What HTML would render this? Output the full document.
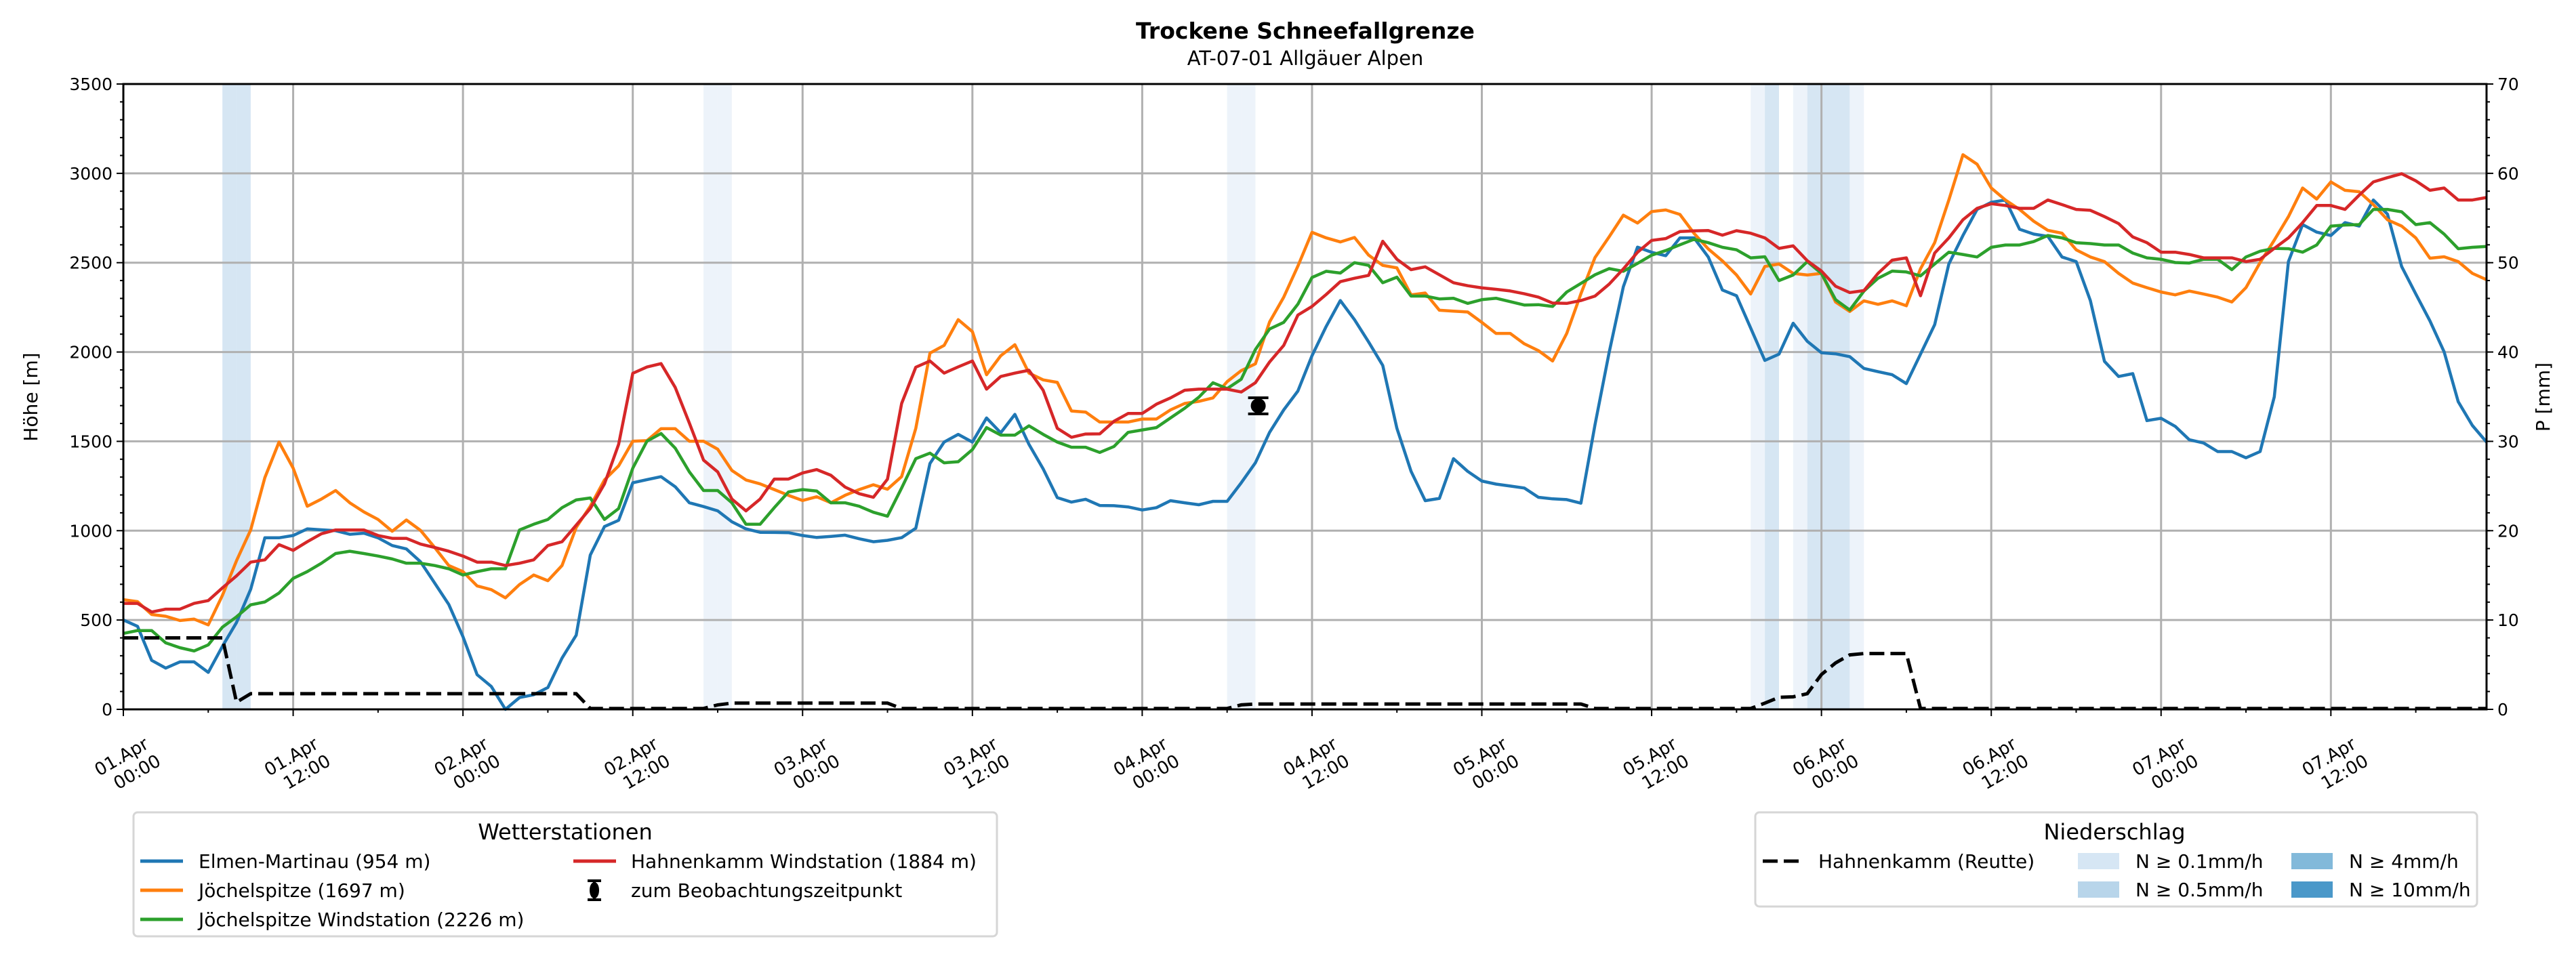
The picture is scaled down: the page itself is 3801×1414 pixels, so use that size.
<!DOCTYPE html>
<html><head><meta charset="utf-8">
<style>
html,body{margin:0;padding:0;background:#fff;}
svg{display:block;font-family:"DejaVu Sans","Liberation Sans",sans-serif;}
</style></head>
<body>
<svg id="chart" width="3801" height="1414" viewBox="0 0 3801 1414" xmlns="http://www.w3.org/2000/svg">
<rect x="0" y="0" width="3801" height="1414" fill="#fff"/>
<text x="1926" y="57" font-size="33" font-weight="bold" text-anchor="middle">Trockene Schneefallgrenze</text>
<text x="1926" y="96" font-size="29" text-anchor="middle">AT-07-01 Allgäuer Alpen</text>
<g id="bands"></g>
<g id="grid"></g>
<g id="series"></g>
<g id="axes"></g>
<text transform="translate(55,586) rotate(-90)" font-size="28" text-anchor="middle">Höhe [m]</text>
<text transform="translate(3762,586) rotate(-90)" font-size="28" text-anchor="middle">P [mm]</text>

<g>
<rect x="197" y="1199" width="1274" height="183" rx="6" fill="#fff" stroke="#d6d6d6" stroke-width="3"/>
<text x="834" y="1239" font-size="32" text-anchor="middle">Wetterstationen</text>
<line x1="207" y1="1271" x2="270" y2="1271" stroke="#1f77b4" stroke-width="5"/>
<text x="293" y="1281" font-size="28">Elmen-Martinau (954 m)</text>
<line x1="207" y1="1314" x2="270" y2="1314" stroke="#ff7f0e" stroke-width="5"/>
<text x="293" y="1324" font-size="28">Jöchelspitze (1697 m)</text>
<line x1="207" y1="1357" x2="270" y2="1357" stroke="#2ca02c" stroke-width="5"/>
<text x="293" y="1367" font-size="28">Jöchelspitze Windstation (2226 m)</text>
<line x1="846" y1="1271" x2="909" y2="1271" stroke="#d62728" stroke-width="5"/>
<text x="931" y="1281" font-size="28">Hahnenkamm Windstation (1884 m)</text>
<g stroke="#000" stroke-width="4">
<line x1="877" y1="1300" x2="877" y2="1328"/><line x1="867" y1="1300" x2="887" y2="1300"/><line x1="867" y1="1328" x2="887" y2="1328"/>
<ellipse cx="877" cy="1314" rx="5" ry="10" fill="#000"/></g>
<text x="931" y="1324" font-size="28">zum Beobachtungszeitpunkt</text>
</g>

<g>
<rect x="2590" y="1199" width="1065" height="139" rx="6" fill="#fff" stroke="#d6d6d6" stroke-width="3"/>
<text x="3120" y="1239" font-size="32" text-anchor="middle">Niederschlag</text>
<line x1="2601" y1="1271" x2="2659" y2="1271" stroke="#000" stroke-width="5" stroke-dasharray="22,9"/>
<text x="2683" y="1281" font-size="28">Hahnenkamm (Reutte)</text>
<rect x="3066" y="1259" width="61" height="24" fill="#d6e6f4"/>
<text x="3151" y="1281" font-size="28">N ≥ 0.1mm/h</text>
<rect x="3066" y="1301" width="61" height="24" fill="#b8d5ea"/>
<text x="3151" y="1323" font-size="28">N ≥ 0.5mm/h</text>
<rect x="3381" y="1259" width="61" height="24" fill="#82b9da"/>
<text x="3466" y="1281" font-size="28">N ≥ 4mm/h</text>
<rect x="3381" y="1301" width="61" height="24" fill="#4a98c9"/>
<text x="3466" y="1323" font-size="28">N ≥ 10mm/h</text>
</g>
</svg>
<script>
const elmen=[500,465,274,231,266,266,207,353,486,672,960,960,973,1010,1005,1000,980,986,960,917,898,826,707,587,407,194,128,0,66,82,122,287,415,864,1023,1058,1268,1286,1302,1246,1156,1135,1111,1050,1010,991,990,989,973,962,968,975,955,938,946,961,1014,1376,1496,1539,1496,1631,1548,1651,1483,1346,1185,1160,1176,1141,1140,1133,1116,1129,1168,1156,1145,1164,1164,1268,1380,1550,1676,1782,1979,2143,2288,2181,2056,1925,1573,1332,1168,1181,1403,1332,1278,1261,1250,1239,1187,1178,1174,1154,1593,1998,2365,2587,2558,2539,2639,2639,2532,2347,2315,2134,1953,1988,2161,2060,1996,1990,1974,1908,1890,1873,1823,1988,2153,2493,2652,2798,2838,2851,2687,2660,2647,2532,2506,2288,1948,1863,1879,1616,1629,1584,1509,1491,1443,1443,1408,1443,1749,2506,2713,2671,2652,2724,2705,2851,2772,2479,2325,2174,2001,1722,1589,1496];
const joechel=[614,603,531,521,497,505,473,638,832,1004,1297,1496,1350,1137,1177,1225,1156,1105,1063,997,1060,1002,906,805,771,691,670,624,699,752,720,805,1018,1137,1284,1363,1501,1504,1571,1571,1501,1501,1456,1337,1284,1262,1230,1198,1169,1190,1156,1198,1230,1257,1232,1303,1573,1994,2037,2181,2114,1873,1979,2041,1882,1844,1830,1670,1664,1608,1608,1608,1625,1625,1676,1712,1724,1743,1834,1896,1934,2168,2307,2481,2670,2639,2616,2641,2542,2485,2471,2320,2330,2234,2229,2224,2166,2104,2104,2046,2008,1950,2104,2326,2529,2645,2766,2722,2786,2795,2770,2664,2577,2510,2431,2325,2479,2493,2440,2431,2440,2280,2227,2286,2267,2286,2259,2466,2612,2851,3104,3051,2918,2851,2798,2732,2681,2665,2572,2532,2506,2440,2386,2360,2336,2320,2341,2325,2307,2280,2360,2501,2626,2758,2918,2856,2952,2905,2897,2825,2740,2705,2639,2525,2533,2506,2440,2405];
const joechelWind=[425,441,441,372,345,327,361,460,518,585,601,651,733,771,818,872,885,872,858,842,818,818,805,787,752,771,787,787,1004,1036,1063,1129,1172,1183,1063,1124,1350,1501,1544,1462,1329,1225,1225,1156,1036,1036,1129,1217,1230,1222,1156,1156,1137,1103,1081,1239,1403,1434,1380,1386,1454,1577,1535,1535,1587,1539,1496,1467,1467,1438,1471,1550,1564,1577,1631,1685,1747,1828,1795,1848,2014,2129,2166,2268,2417,2452,2442,2500,2485,2388,2419,2313,2313,2297,2301,2272,2293,2301,2282,2263,2265,2255,2336,2384,2432,2467,2452,2496,2542,2568,2600,2631,2612,2586,2572,2527,2533,2400,2431,2506,2440,2293,2235,2341,2413,2453,2448,2426,2493,2559,2546,2532,2586,2599,2599,2618,2652,2639,2612,2607,2599,2599,2554,2527,2519,2501,2498,2519,2519,2461,2532,2564,2580,2578,2559,2599,2705,2711,2713,2798,2798,2785,2713,2724,2660,2578,2586,2591];
const hahnenkamm=[593,593,545,561,561,593,609,680,747,824,837,922,890,938,983,1004,1004,1004,973,957,957,925,906,885,858,824,824,805,818,837,917,938,1031,1124,1262,1483,1881,1916,1935,1802,1602,1395,1329,1177,1111,1177,1289,1289,1323,1342,1310,1244,1207,1187,1288,1712,1915,1950,1882,1917,1950,1792,1863,1882,1898,1786,1573,1523,1541,1542,1612,1656,1656,1708,1743,1786,1792,1792,1792,1776,1828,1944,2037,2207,2255,2322,2394,2413,2429,2620,2519,2461,2477,2432,2388,2371,2359,2351,2342,2326,2307,2274,2272,2288,2313,2380,2465,2558,2625,2635,2674,2678,2680,2654,2679,2665,2639,2580,2594,2511,2453,2368,2333,2344,2440,2514,2527,2315,2554,2639,2740,2804,2830,2820,2804,2804,2851,2825,2798,2793,2758,2719,2644,2612,2559,2559,2546,2527,2527,2527,2506,2519,2580,2639,2724,2820,2820,2798,2878,2952,2976,2998,2958,2905,2918,2851,2851,2865];
const precip=[8,8,8,8,8,8,8,8,0.8,1.75,1.75,1.75,1.75,1.75,1.75,1.75,1.75,1.75,1.75,1.75,1.75,1.75,1.75,1.75,1.75,1.75,1.75,1.75,1.75,1.75,1.75,1.75,1.75,0.1,0.1,0.1,0.1,0.1,0.1,0.1,0.1,0.1,0.5,0.7,0.7,0.7,0.7,0.7,0.7,0.7,0.7,0.7,0.7,0.7,0.7,0.1,0.1,0.1,0.1,0.1,0.1,0.1,0.1,0.1,0.1,0.1,0.1,0.1,0.1,0.1,0.1,0.1,0.1,0.1,0.1,0.1,0.1,0.1,0.1,0.5,0.6,0.6,0.6,0.6,0.6,0.6,0.6,0.6,0.6,0.6,0.6,0.6,0.6,0.6,0.6,0.6,0.6,0.6,0.6,0.6,0.6,0.6,0.6,0.6,0.1,0.1,0.1,0.1,0.1,0.1,0.1,0.1,0.1,0.1,0.1,0.1,0.7,1.35,1.4,1.75,3.9,5.2,6.1,6.25,6.25,6.25,6.25,0.1,0.1,0.1,0.1,0.1,0.1,0.1,0.1,0.1,0.1,0.1,0.1,0.1,0.1,0.1,0.1,0.1,0.1,0.1,0.1,0.1,0.1,0.1,0.1,0.1,0.1,0.1,0.1,0.1,0.1,0.1,0.1,0.1,0.1,0.1,0.1,0.1,0.1,0.1,0.1,0.1];
const bandHours=[7,8,41,42,78,79,115,116,118,119,120,121,122];
const bandLevels=[2,2,1,1,1,1,1,2,1,2,2,2,1];
const obsHour=[80.2];
const obsValue=[1699];
const obsErr=[45];
const yTicks=[0,500,1000,1500,2000,2500,3000,3500];
const pTicks=[0,10,20,30,40,50,60,70];
const xTickHours=[0,12,24,36,48,60,72,84,96,108,120,132,144,156];
const xTickDates=["01.Apr","01.Apr","02.Apr","02.Apr","03.Apr","03.Apr","04.Apr","04.Apr","05.Apr","05.Apr","06.Apr","06.Apr","07.Apr","07.Apr"];
const xTickTimes=["00:00","12:00","00:00","12:00","00:00","12:00","00:00","12:00","00:00","12:00","00:00","12:00","00:00","12:00"];

const NS="http://www.w3.org/2000/svg";
const L=182,R=3669,T=124,B=1047,HMAX=167;
const xS=h=>L+h*(R-L)/HMAX;
const yS=v=>B-v*(B-T)/3500;
const pS=p=>B-p*(B-T)/70;
function mk(tag,attrs,parent){const e=document.createElementNS(NS,tag);for(const k in attrs)e.setAttribute(k,attrs[k]);parent.appendChild(e);return e;}
const gB=document.getElementById('bands'),gG=document.getElementById('grid'),gS=document.getElementById('series'),gA=document.getElementById('axes');

bandHours.forEach((h,i)=>{
  const r=mk('rect',{x:xS(h),y:T,width:xS(h+1)-xS(h),height:B-T,fill:bandLevels[i]===2?'#d6e6f3':'#edf3fa'},gB);
  
  
});
yTicks.forEach(v=>{
  const l=mk('line',{x1:L,x2:R,y1:yS(v),y2:yS(v),stroke:'#b0b0b0','stroke-width':3},gG);
  
  
});
xTickHours.forEach(h=>{
  const l=mk('line',{x1:xS(h),x2:xS(h),y1:T,y2:B,stroke:'#b0b0b0','stroke-width':3},gG);
  
  
});
function line(vals,color,name){
  const d=vals.map((v,i)=>(i?'L':'M')+xS(i).toFixed(1)+' '+yS(v).toFixed(1)).join(' ');
  const p=mk('path',{d:d,fill:'none',stroke:color,'stroke-width':4.5,'stroke-linejoin':'round'},gS);
  
  
}
line(elmen,'#1f77b4','elmen-line');
line(joechel,'#ff7f0e','joechel-line');
line(joechelWind,'#2ca02c','joechel-wind-line');
line(hahnenkamm,'#d62728','hahnenkamm-line');
{
  const d=precip.map((v,i)=>(i?'L':'M')+xS(i).toFixed(1)+' '+pS(v).toFixed(1)).join(' ');
  const p=mk('path',{d:d,fill:'none',stroke:'#000','stroke-width':5,'stroke-dasharray':'22,9'},gS);
  
  
}
obsHour.forEach((h,i)=>{
  const g=mk('g',{stroke:'#000','stroke-width':4},gS);
  
  
  const x=xS(h),y0=yS(obsValue[i]-obsErr[i]),y1=yS(obsValue[i]+obsErr[i]);
  mk('line',{x1:x,x2:x,y1:y0,y2:y1},g);
  mk('line',{x1:x-15,x2:x+15,y1:y0,y2:y0},g);
  mk('line',{x1:x-15,x2:x+15,y1:y1,y2:y1},g);
  mk('circle',{cx:x,cy:yS(obsValue[i]),r:9,fill:'#000'},g);
});
const fr=mk('rect',{x:L,y:T,width:R-L,height:B-T,fill:'none',stroke:'#000','stroke-width':3},gA);


for(let v=0;v<=3500;v+=100){const big=v%500===0;mk('line',{x1:L-(big?10:5),x2:L,y1:yS(v),y2:yS(v),stroke:'#000','stroke-width':2},gA);}
for(let p=0;p<=70;p+=2){mk('line',{x1:R,x2:R+5,y1:pS(p),y2:pS(p),stroke:'#000','stroke-width':2},gA);}
pTicks.forEach(p=>{mk('line',{x1:R,x2:R+10,y1:pS(p),y2:pS(p),stroke:'#000','stroke-width':2},gA);});
for(let h=0;h<=HMAX;h+=6){const big=h%12===0;mk('line',{x1:xS(h),x2:xS(h),y1:B,y2:B+(big?10:5),stroke:'#000','stroke-width':2},gA);}
yTicks.forEach(v=>{
  const t=mk('text',{x:L-16,y:yS(v)+9,'font-size':25,'text-anchor':'end'},gA);
  t.textContent=v;
  
  
});
pTicks.forEach(p=>{
  const t=mk('text',{x:R+16,y:pS(p)+9,'font-size':25},gA);
  t.textContent=p;
  
  
});
xTickHours.forEach((h,i)=>{
  const g=mk('g',{transform:'translate('+(xS(h)+39)+',1103) rotate(-30)','font-size':26,'text-anchor':'end'},gA);
  
  
  const a=mk('text',{x:0,y:0},g);a.textContent=xTickDates[i];
  const b=mk('text',{x:3,y:31},g);b.textContent=xTickTimes[i];
});
</script>
</body></html>
